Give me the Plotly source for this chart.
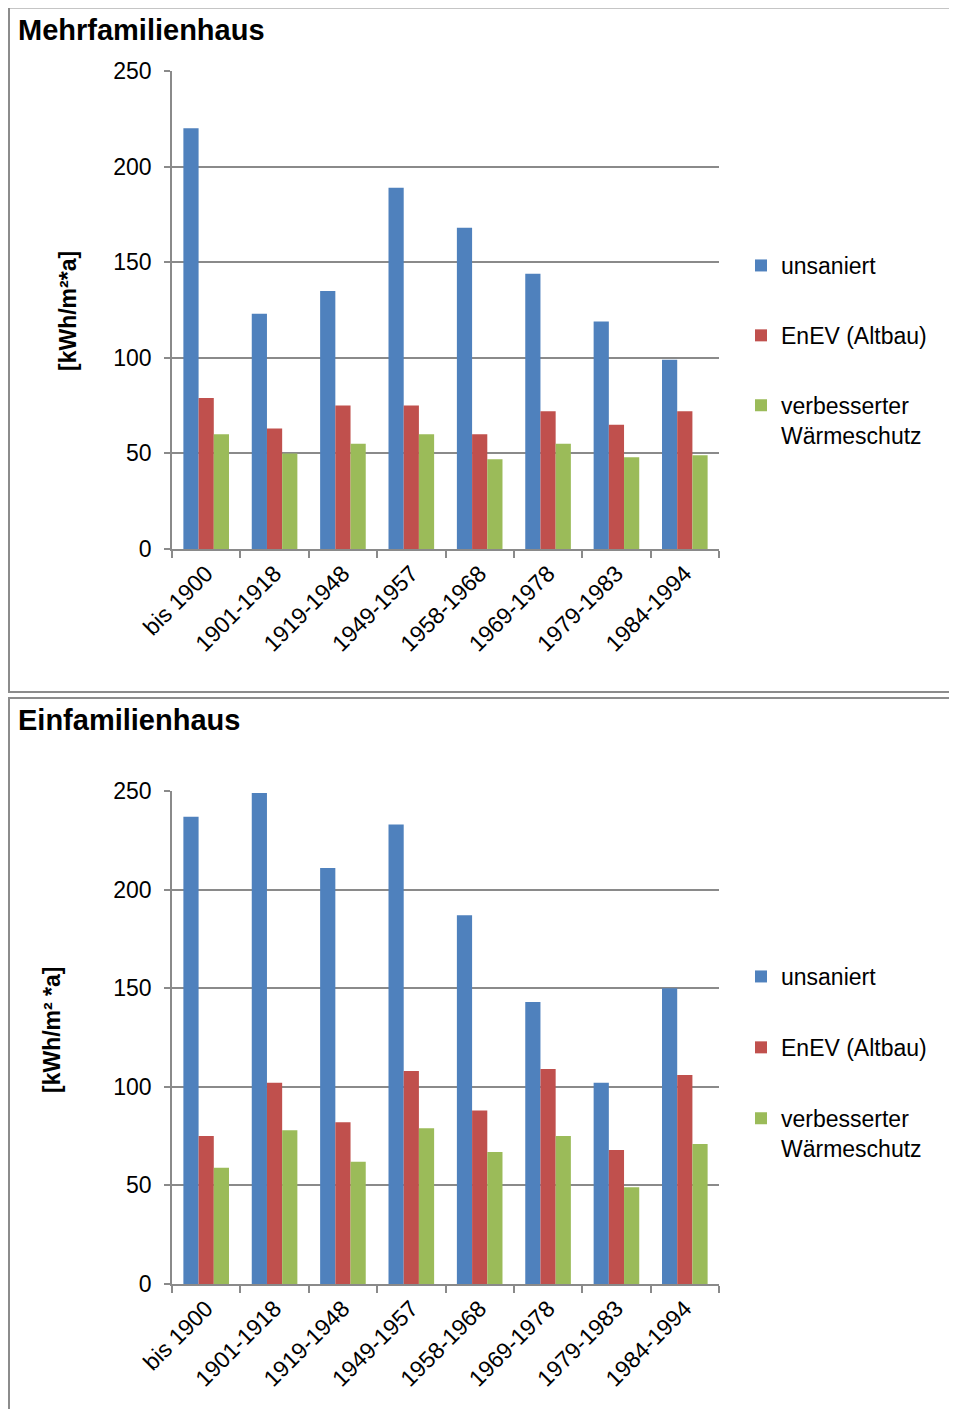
import plotly.graph_objects as go

categories = ["bis 1900", "1901-1918", "1919-1948", "1949-1957", "1958-1968", "1969-1978", "1979-1983", "1984-1994"]
series_names = ["unsaniert", "EnEV (Altbau)", "verbesserter<br>Wärmeschutz"]

mfh_unsaniert = [220, 123, 135, 189, 168, 144, 119, 99]
mfh_enev = [79, 63, 75, 75, 60, 72, 65, 72]
mfh_verbessert = [60, 50, 55, 60, 47, 55, 48, 49]

efh_unsaniert = [237, 249, 211, 233, 187, 143, 102, 150]
efh_enev = [75, 102, 82, 108, 88, 109, 68, 106]
efh_verbessert = [59, 78, 62, 79, 67, 75, 49, 71]

y_ticks = [0, 50, 100, 150, 200, 250]
colors = ["#4F81BD", "#C0504D", "#9BBB59"]

# page body has an 8px margin; the figure fills the rest of the 957x1417 window
OFF = 8
W, H = 957 - 2 * OFF, 1417 - 2 * OFF
FONT = "Liberation Sans, Arial, sans-serif"
GRID = "#8A8A8A"


def px(x):
    return (x - OFF) / W


def py(y):
    return 1 - (y - OFF) / H


fig = go.Figure()

panels = [
    (["x", "y"], "legend", [mfh_unsaniert, mfh_enev, mfh_verbessert]),
    (["x2", "y2"], "legend2", [efh_unsaniert, efh_enev, efh_verbessert]),
]
for (xa, ya), leg, data in panels:
    for name, vals, col in zip(series_names, data, colors):
        fig.add_trace(go.Bar(
            x=categories, y=vals, name=name, marker_color=col,
            marker_line_width=0, xaxis=xa, yaxis=ya, legend=leg,
            legendgroup=leg + name, showlegend=True,
        ))

axis_common_x = dict(
    type="category", showline=True, linecolor=GRID, linewidth=1.8,
    ticks="outside", ticklen=7, tickcolor=GRID, tickwidth=1.8,
    tickson="boundaries", tickangle=-45, showgrid=False, automargin=False,
    tickfont=dict(family=FONT, size=23, color="#000000"),
)
axis_common_y = dict(
    range=[0, 250], tickvals=y_ticks, showline=True, linecolor=GRID, linewidth=1.8,
    ticks="outside", ticklen=6, tickcolor=GRID, tickwidth=1.8, automargin=False,
    showgrid=True, gridcolor=GRID, gridwidth=1.8, zeroline=False,
    tickfont=dict(family=FONT, size=23, color="#000000"), ticklabelstandoff=8,
)

legend_common = dict(xanchor="left", yanchor="top", font=dict(family=FONT, size=23),
                     traceorder="grouped", valign="top", bgcolor="rgba(0,0,0,0)")

fig.update_layout(
    width=W, height=H,
    margin=dict(l=0, r=0, t=0, b=0, pad=0, autoexpand=False),
    paper_bgcolor="white", plot_bgcolor="white",
    barmode="group", bargap=0.333, bargroupgap=0,
    font=dict(family=FONT, color="#000000"),
    xaxis=dict(domain=[px(172), px(719)], anchor="y", **axis_common_x),
    yaxis=dict(domain=[py(549), py(71)], anchor="x", **axis_common_y),
    xaxis2=dict(domain=[px(172), px(719)], anchor="y2", **axis_common_x),
    yaxis2=dict(domain=[py(1284), py(791)], anchor="x2", **axis_common_y),
    legend=dict(x=px(741), y=py(244), tracegroupgap=37, **legend_common),
    legend2=dict(x=px(741), y=py(955), tracegroupgap=38, **legend_common),
    shapes=[
        dict(type="rect", xref="paper", yref="paper", x0=px(9), x1=1.05, y0=py(692), y1=py(7.5),
             line=dict(color="#8C8C8C", width=2), fillcolor="rgba(0,0,0,0)", layer="below"),
        dict(type="rect", xref="paper", yref="paper", x0=px(9), x1=1.05, y0=-0.05, y1=py(698),
             line=dict(color="#8C8C8C", width=2), fillcolor="rgba(0,0,0,0)", layer="below"),
    ],
    annotations=[
        dict(text="<b>Mehrfamilienhaus</b>", x=px(16), y=py(30), xref="paper", yref="paper",
             xanchor="left", yanchor="middle", showarrow=False, font=dict(family=FONT, size=29)),
        dict(text="<b>Einfamilienhaus</b>", x=px(16), y=py(720), xref="paper", yref="paper",
             xanchor="left", yanchor="middle", showarrow=False, font=dict(family=FONT, size=29)),
        dict(text="<b>[kWh/m²*a]</b>", x=px(68), y=py(311), xref="paper", yref="paper",
             xanchor="center", yanchor="middle", textangle=-90, showarrow=False,
             font=dict(family=FONT, size=23)),
        dict(text="<b>[kWh/m² *a]</b>", x=px(52), y=py(1030), xref="paper", yref="paper",
             xanchor="center", yanchor="middle", textangle=-90, showarrow=False,
             font=dict(family=FONT, size=23)),
    ],
)

fig.write_html("out.html")
